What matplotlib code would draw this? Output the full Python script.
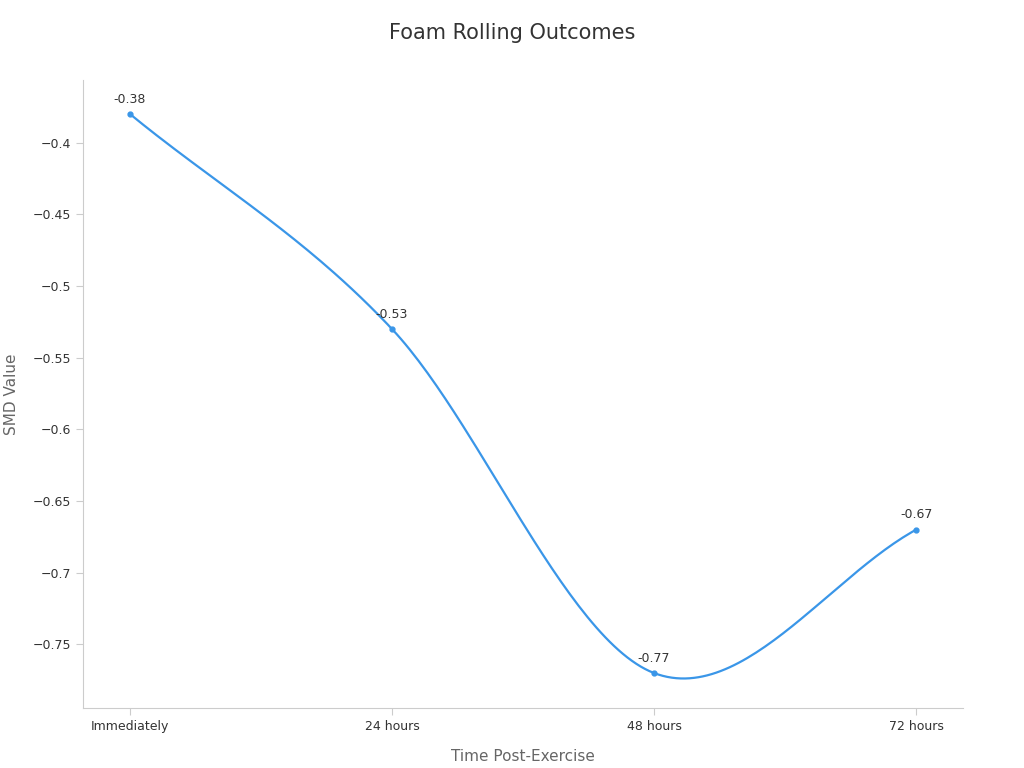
import numpy as np
import matplotlib.pyplot as plt

categories = ["Immediately", "24 hours", "48 hours", "72 hours"]
smd_values = [-0.38, -0.53, -0.77, -0.67]
y_ticks = [-0.4, -0.45, -0.5, -0.55, -0.6, -0.65, -0.7, -0.75]

LINE = "#3a96e8"
AXIS = "#cccccc"
TEXT = "#333333"
MUTED = "#666666"


def smooth(xs, ys, steps=60):
    # Catmull-Rom style hermite curve through the data points
    xs = np.asarray(xs, float)
    ys = np.asarray(ys, float)
    n = len(xs)
    m = np.zeros(n)
    for i in range(n):
        lo, hi = max(i - 1, 0), min(i + 1, n - 1)
        m[i] = (ys[hi] - ys[lo]) / (xs[hi] - xs[lo])
    px, py = [], []
    for i in range(n - 1):
        h = xs[i + 1] - xs[i]
        t = np.linspace(0, 1, steps)
        h00 = 2 * t**3 - 3 * t**2 + 1
        h10 = t**3 - 2 * t**2 + t
        h01 = -2 * t**3 + 3 * t**2
        h11 = t**3 - t**2
        px.extend(xs[i] + t * h)
        py.extend(h00 * ys[i] + h10 * h * m[i] + h01 * ys[i + 1] + h11 * h * m[i + 1])
    return px, py


fig = plt.figure(figsize=(10.24, 7.68), dpi=100)
ax = fig.add_axes([83 / 1024, 1 - 708 / 768, 880 / 1024, 628 / 768])

x = np.arange(len(categories))
sx, sy = smooth(x, smd_values)
ax.plot(sx, sy, color=LINE, lw=1.6)
ax.plot(x, smd_values, "o", color=LINE, ms=3.5)
for xi, v in zip(x, smd_values):
    ax.annotate(f"{v:.2f}", (xi, v), xytext=(0, 6), textcoords="offset points",
                ha="center", va="bottom", fontsize=9, color=TEXT)

ax.set_xlim(-0.179, 3.179)
ax.set_ylim(-0.7944, -0.3563)
ax.set_xticks(x)
ax.set_xticklabels(categories)
ax.set_yticks(y_ticks)
ax.set_yticklabels([f"\u2212{abs(t):g}" for t in y_ticks])
ax.tick_params(labelsize=9, colors=TEXT, length=5)
ax.tick_params(axis="both", color=AXIS)

for s in ["top", "right"]:
    ax.spines[s].set_visible(False)
for s in ["left", "bottom"]:
    ax.spines[s].set_color(AXIS)

ax.set_xlabel("Time Post-Exercise", fontsize=11, color=MUTED, labelpad=12)
ax.set_ylabel("SMD Value", fontsize=11, color=MUTED, labelpad=10)
fig.text(0.5, 1 - 33 / 768, "Foam Rolling Outcomes", ha="center", va="center",
         fontsize=15, color=TEXT)

fig.savefig("out.png", dpi=100)
